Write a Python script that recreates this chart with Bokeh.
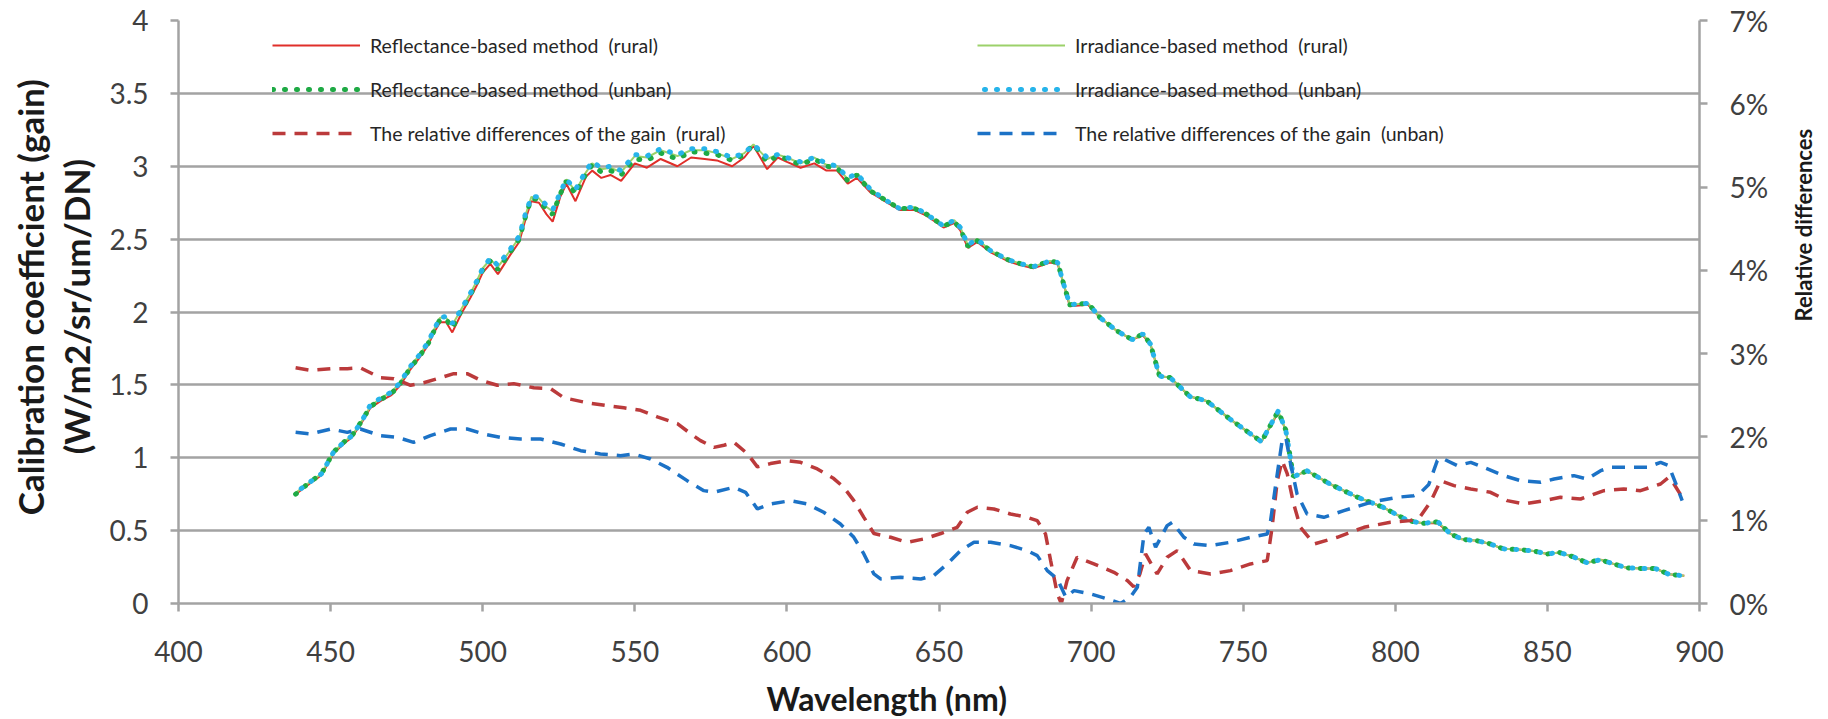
import math
from bokeh.plotting import figure
from bokeh.layouts import row, column
from bokeh.models import (Range1d, LinearAxis, FixedTicker, PrintfTickFormatter,
                          Legend, LegendItem)
from bokeh.core.properties import value
from bokeh.embed import file_html
from bokeh.resources import INLINE

# ---------------- data ----------------
wavelength = [438.5, 443, 447, 451, 454.5, 457, 460.5, 463, 466.5, 470, 473, 476, 479, 482, 484, 486, 488, 490,
              493, 496, 498, 500, 502.5, 505, 509, 512, 514, 516, 518.5, 521, 523, 525.5, 527.5, 530.5, 534, 536,
              539, 542, 545.5, 550, 554, 558.5, 564, 568.5, 573, 577, 582, 586, 589, 593.5, 597, 600, 604.5, 609,
              613, 616.5, 620, 623, 627.5, 633, 637, 642, 646, 651.5, 655, 657, 659.5, 662.5, 667, 672.5, 677, 681,
              686.5, 689, 691, 693, 699, 703, 708.5, 713.5, 717, 719.5, 722.5, 726, 732.5, 738, 746, 756, 761.5,
              764, 766.5, 771, 778.5, 787.5, 796, 804, 809, 814, 818, 822, 827, 831, 835.5, 840.5, 845.5, 850, 854,
              858.5, 863, 867.5, 872, 876, 881, 885.5, 890, 895]

gain_refl_rural = [0.75, 0.82, 0.88, 1.03, 1.10, 1.14, 1.25, 1.34, 1.39, 1.43, 1.50, 1.60, 1.68, 1.77, 1.86, 1.93,
                   1.93, 1.86, 1.99, 2.10, 2.18, 2.27, 2.33, 2.26, 2.39, 2.48, 2.63, 2.76, 2.75, 2.67, 2.62, 2.79,
                   2.88, 2.76, 2.93, 2.97, 2.92, 2.94, 2.90, 3.02, 2.99, 3.05, 3.00, 3.06, 3.05, 3.04, 3.00, 3.06,
                   3.14, 2.98, 3.06, 3.03, 2.99, 3.02, 2.97, 2.97, 2.88, 2.92, 2.82, 2.75, 2.70, 2.70, 2.66, 2.58,
                   2.61, 2.56, 2.44, 2.48, 2.41, 2.35, 2.32, 2.30, 2.34, 2.33, 2.19, 2.04, 2.05, 1.96, 1.87, 1.81,
                   1.84, 1.78, 1.56, 1.55, 1.42, 1.39, 1.26, 1.11, 1.31, 1.19, 0.87, 0.91, 0.82, 0.73, 0.66, 0.57,
                   0.55, 0.55, 0.48, 0.44, 0.43, 0.41, 0.375, 0.37, 0.36, 0.34, 0.35, 0.32, 0.28, 0.30, 0.27, 0.245,
                   0.24, 0.24, 0.20, 0.19]

gain_refl_unban = [0.75, 0.83, 0.89, 1.04, 1.11, 1.15, 1.26, 1.35, 1.40, 1.44, 1.51, 1.61, 1.69, 1.78, 1.87, 1.95,
                   1.95, 1.89, 2.01, 2.12, 2.20, 2.29, 2.35, 2.29, 2.41, 2.50, 2.65, 2.78, 2.77, 2.70, 2.67, 2.81,
                   2.90, 2.81, 2.95, 3.01, 2.96, 2.97, 2.94, 3.05, 3.04, 3.09, 3.05, 3.10, 3.09, 3.08, 3.04, 3.08,
                   3.15, 3.03, 3.07, 3.05, 3.01, 3.05, 3.00, 2.99, 2.90, 2.94, 2.83, 2.76, 2.71, 2.71, 2.67, 2.59,
                   2.62, 2.57, 2.45, 2.49, 2.42, 2.36, 2.33, 2.31, 2.35, 2.34, 2.19, 2.05, 2.06, 1.96, 1.87, 1.81,
                   1.85, 1.78, 1.56, 1.55, 1.42, 1.39, 1.26, 1.11, 1.32, 1.19, 0.87, 0.91, 0.82, 0.73, 0.66, 0.57,
                   0.55, 0.56, 0.48, 0.44, 0.43, 0.41, 0.375, 0.37, 0.36, 0.34, 0.35, 0.32, 0.28, 0.30, 0.27, 0.245,
                   0.24, 0.24, 0.20, 0.19]

gain_irr_rural = [0.76, 0.83, 0.89, 1.04, 1.11, 1.15, 1.26, 1.35, 1.41, 1.45, 1.52, 1.62, 1.70, 1.79, 1.88, 1.96,
                  1.96, 1.91, 2.02, 2.13, 2.21, 2.30, 2.36, 2.31, 2.42, 2.51, 2.66, 2.79, 2.78, 2.72, 2.69, 2.82,
                  2.91, 2.83, 2.96, 3.02, 2.98, 2.99, 2.96, 3.07, 3.06, 3.11, 3.07, 3.11, 3.11, 3.09, 3.05, 3.09,
                  3.15, 3.05, 3.08, 3.06, 3.02, 3.06, 3.01, 3.00, 2.91, 2.95, 2.84, 2.76, 2.71, 2.72, 2.67, 2.59,
                  2.63, 2.58, 2.46, 2.50, 2.42, 2.36, 2.33, 2.31, 2.35, 2.34, 2.19, 2.05, 2.06, 1.96, 1.87, 1.81,
                  1.85, 1.78, 1.56, 1.55, 1.42, 1.39, 1.26, 1.11, 1.32, 1.19, 0.87, 0.91, 0.82, 0.73, 0.66, 0.57,
                  0.55, 0.56, 0.48, 0.44, 0.43, 0.41, 0.375, 0.37, 0.36, 0.34, 0.35, 0.32, 0.28, 0.30, 0.27, 0.245,
                  0.24, 0.24, 0.20, 0.19]

gain_irr_unban = [0.76, 0.83, 0.89, 1.04, 1.11, 1.15, 1.26, 1.36, 1.41, 1.45, 1.52, 1.62, 1.70, 1.79, 1.88, 1.96,
                  1.97, 1.92, 2.02, 2.13, 2.21, 2.30, 2.37, 2.32, 2.43, 2.52, 2.67, 2.79, 2.79, 2.73, 2.70, 2.82,
                  2.91, 2.84, 2.97, 3.03, 2.99, 3.00, 2.97, 3.08, 3.07, 3.12, 3.08, 3.12, 3.12, 3.10, 3.06, 3.09,
                  3.15, 3.06, 3.08, 3.06, 3.03, 3.06, 3.02, 3.00, 2.92, 2.95, 2.84, 2.76, 2.71, 2.72, 2.67, 2.59,
                  2.63, 2.58, 2.46, 2.50, 2.42, 2.36, 2.33, 2.31, 2.35, 2.34, 2.19, 2.05, 2.06, 1.96, 1.87, 1.81,
                  1.85, 1.78, 1.56, 1.55, 1.42, 1.39, 1.26, 1.11, 1.32, 1.19, 0.87, 0.91, 0.82, 0.73, 0.66, 0.57,
                  0.55, 0.56, 0.48, 0.44, 0.43, 0.41, 0.375, 0.37, 0.36, 0.34, 0.35, 0.32, 0.28, 0.30, 0.27, 0.245,
                  0.24, 0.24, 0.20, 0.19]

wl_diff_rural = [438.5, 443.4, 450, 455.5, 459.8, 466.4, 470.8, 476.3, 480.6, 486.1, 490.5, 494.9, 499.3, 504.8,
                 510.2, 516.8, 522.3, 526.7, 534.4, 541, 546.4, 551.9, 557.4, 564, 568.3, 571.6, 576, 579.3, 582.6,
                 587, 590.3, 594.6, 600.1, 604.5, 610, 615.4, 618.7, 622, 625.3, 628.6, 634.1, 639.5, 645, 650.6,
                 656, 659.3, 662.6, 668, 673.5, 679, 682.3, 685, 686.7, 688.9, 690.2, 692.1, 695.4, 700.9, 707.5,
                 711.9, 714, 716, 717.9, 721.7, 725, 728.3, 732.7, 739.3, 745.8, 752.4, 757.9, 759.5, 761.2, 762.8,
                 764.5, 766.6, 768.8, 773.3, 780.9, 789.7, 798.4, 805, 808.3, 811.6, 814.9, 819.3, 824.8, 831.3,
                 836.8, 842.3, 848.9, 854.3, 860.9, 868.6, 875.1, 880.6, 887.2, 889.9, 891.6, 894.3]
diff_rural = [2.83, 2.80, 2.82, 2.82, 2.83, 2.71, 2.70, 2.62, 2.65, 2.71, 2.76, 2.76, 2.68, 2.62, 2.64, 2.59, 2.58,
              2.47, 2.41, 2.375, 2.35, 2.32, 2.24, 2.16, 2.04, 1.955, 1.875, 1.90, 1.935, 1.80, 1.64, 1.68, 1.715,
              1.695, 1.615, 1.50, 1.395, 1.235, 1.035, 0.84, 0.795, 0.735, 0.775, 0.84, 0.915, 1.095, 1.155, 1.135,
              1.075, 1.035, 0.995, 0.835, 0.515, 0.115, 0.0, 0.275, 0.555, 0.475, 0.375, 0.275, 0.20, 0.35, 0.595,
              0.355, 0.555, 0.635, 0.395, 0.355, 0.395, 0.475, 0.515, 0.915, 1.475, 1.715, 1.555, 1.195, 0.915,
              0.715, 0.795, 0.915, 0.975, 0.995, 1.05, 1.22, 1.475, 1.415, 1.375, 1.335, 1.235, 1.195, 1.235,
              1.275, 1.255, 1.355, 1.375, 1.355, 1.435, 1.515, 1.435, 1.275]

wl_diff_unban = [438.5, 443.4, 450, 455.5, 459.8, 466.4, 471.9, 477.3, 482.8, 489.4, 494.9, 500.4, 505.8, 512.4,
                 519, 525.6, 532.2, 538.7, 545.3, 549.7, 555.2, 560.6, 567.2, 572.7, 576, 582.6, 586.4, 590.3, 594.6,
                 601.2, 606.7, 612.1, 617.6, 622, 625.3, 628.6, 630.8, 637.4, 644, 648.3, 652.7, 657.1, 661.5, 667,
                 673.5, 679, 682.3, 685.6, 688.9, 691.7, 694.4, 699.8, 705.3, 709.7, 713, 715.2, 717.4, 719, 721.2,
                 725, 726.7, 730.5, 733.8, 739.3, 745.8, 752.4, 757.9, 759, 761.2, 762.8, 764, 765.6, 767.7, 771,
                 776.5, 783.1, 791.9, 800.6, 806.1, 808.3, 811, 813.8, 815, 820.4, 824.8, 830.3, 835.7, 841.2, 847.8,
                 852.2, 858.7, 863.1, 867.5, 870.8, 877.4, 882.8, 887.2, 889.9, 892.7, 894.3]
diff_unban = [2.055, 2.035, 2.095, 2.055, 2.095, 2.015, 1.995, 1.935, 2.015, 2.095, 2.095, 2.035, 1.995, 1.975,
              1.975, 1.915, 1.835, 1.795, 1.775, 1.795, 1.735, 1.635, 1.475, 1.355, 1.335, 1.395, 1.335, 1.135,
              1.195, 1.235, 1.195, 1.095, 0.955, 0.795, 0.595, 0.355, 0.295, 0.315, 0.295, 0.335, 0.475, 0.635,
              0.735, 0.735, 0.695, 0.635, 0.575, 0.395, 0.295, 0.075, 0.155, 0.115, 0.055, 0.0, 0.08, 0.195, 0.835,
              0.915, 0.675, 0.935, 0.975, 0.795, 0.715, 0.695, 0.735, 0.795, 0.835, 0.995, 1.555, 1.955, 1.995,
              1.675, 1.315, 1.075, 1.035, 1.115, 1.215, 1.275, 1.295, 1.33, 1.43, 1.715, 1.75, 1.655, 1.695, 1.615,
              1.535, 1.475, 1.455, 1.495, 1.535, 1.495, 1.595, 1.635, 1.635, 1.635, 1.695, 1.655, 1.395, 1.235]

gain_ticks = [0, 0.5, 1, 1.5, 2, 2.5, 3, 3.5, 4]
gain_tick_labels = ["0", "0.5", "1", "1.5", "2", "2.5", "3", "3.5", "4"]
pct_ticks = [0, 1, 2, 3, 4, 5, 6, 7]
wl_ticks = [400, 450, 500, 550, 600, 650, 700, 750, 800, 850, 900]

labels = ["Reflectance-based method  (rural)", "Reflectance-based method  (unban)",
          "The relative differences of the gain  (rural)", "Irradiance-based method  (rural)",
          "Irradiance-based method  (unban)", "The relative differences of the gain  (unban)"]
title_left_1 = "Calibration coefficient (gain)"
title_left_2 = "(W/m2/sr/um/DN)"
title_right = "Relative differences"
title_bottom = "Wavelength (nm)"

# ---------------- style / layout (absolute page pixels) ----------------
FONT = "Lato"
GRID = "#a3a3a3"
TICK_TXT = "#404040"
TITLE_TXT = "#1a1a1a"
W, H = 1828, 719
FL, FR, FT, FB = 178, 1699, 20, 603   # frame edges
LEFT_W, RIGHT_W = 100, 48             # title strips
MAIN_H = 680
BOTTOM_H = H - MAIN_H
MAIN_W = W - LEFT_W - RIGHT_W

p = figure(width=MAIN_W, height=MAIN_H, output_backend="svg", toolbar_location=None,
           x_range=Range1d(400, 900), y_range=Range1d(0, 4),
           min_border_left=FL - LEFT_W, min_border_right=(W - RIGHT_W) - FR,
           min_border_top=FT, min_border_bottom=MAIN_H - FB)
p.extra_y_ranges = {"pct": Range1d(0, 7)}
p.outline_line_color = None
p.background_fill_color = "white"
p.border_fill_color = "white"

p.xgrid.visible = False
p.ygrid.ticker = FixedTicker(ticks=gain_ticks)
p.ygrid.grid_line_color = GRID
p.ygrid.grid_line_width = 2.5

def style_axis(ax):
    ax.axis_line_color = GRID
    ax.axis_line_width = 2.5
    ax.major_tick_line_color = GRID
    ax.major_tick_line_width = 2.5
    ax.major_tick_out = 8
    ax.major_tick_in = 0
    ax.minor_tick_line_color = None
    ax.major_label_text_font = FONT
    ax.major_label_text_font_size = "28px"
    ax.major_label_text_color = TICK_TXT

yax = p.yaxis[0]
yax.ticker = FixedTicker(ticks=gain_ticks)
yax.major_label_overrides = {t: s for t, s in zip(gain_ticks, gain_tick_labels)}
style_axis(yax)
yax.major_label_standoff = 22

xax = p.xaxis[0]
xax.ticker = FixedTicker(ticks=wl_ticks)
style_axis(xax)
xax.major_label_standoff = 29

rax = LinearAxis(y_range_name="pct", ticker=FixedTicker(ticks=pct_ticks),
                 formatter=PrintfTickFormatter(format="%d%%"))
style_axis(rax)
rax.major_label_standoff = 22
p.add_layout(rax, "right")

# ---------------- glyphs ----------------
r_refl_rural = p.line(wavelength, gain_refl_rural, line_color="#e02f2a", line_width=2)
r_irr_rural = p.line(wavelength, gain_irr_rural, line_color="#9cd16a", line_width=2)
r_refl_unban = p.line(wavelength, gain_refl_unban, line_color="#1faa45", line_width=5,
                      line_dash="1 11", line_cap="round")
r_irr_unban = p.line(wavelength, gain_irr_unban, line_color="#27b4ea", line_width=5,
                     line_dash="1 11", line_cap="round", line_dash_offset=5)
r_diff_rural = p.line(wl_diff_rural, diff_rural, y_range_name="pct", line_color="#bb3a3b",
                      line_width=3.5, line_dash="13 9")
r_diff_unban = p.line(wl_diff_unban, diff_unban, y_range_name="pct", line_color="#1c72c6",
                      line_width=3.5, line_dash="13 9")

LEG_ROW_H, LEG_GAP = 26, 18
LEG_H = 3 * LEG_ROW_H + 2 * LEG_GAP
LEG_TOP = 32

def make_legend(items, left):
    lg = Legend(items=items, location=(left - FL, FB - LEG_TOP - LEG_H), orientation="vertical")
    lg.background_fill_alpha = 0
    lg.border_line_alpha = 0
    lg.padding = 0
    lg.margin = 0
    lg.spacing = LEG_GAP
    lg.glyph_width = 88
    lg.glyph_height = LEG_ROW_H
    lg.label_height = LEG_ROW_H
    lg.label_standoff = 10
    lg.label_text_font = FONT
    lg.label_text_font_size = "19.5px"
    lg.label_text_color = "#262626"
    return lg

p.add_layout(make_legend([LegendItem(label=labels[0], renderers=[r_refl_rural]),
                          LegendItem(label=labels[1], renderers=[r_refl_unban]),
                          LegendItem(label=labels[2], renderers=[r_diff_rural])], 272))
p.add_layout(make_legend([LegendItem(label=labels[3], renderers=[r_irr_rural]),
                          LegendItem(label=labels[4], renderers=[r_irr_unban]),
                          LegendItem(label=labels[5], renderers=[r_diff_unban])], 977))

# ---------------- title strips ----------------
def strip(w, h):
    f = figure(width=w, height=h, output_backend="svg", toolbar_location=None,
               x_range=Range1d(0, w), y_range=Range1d(0, h),
               x_axis_location=None, y_axis_location=None,
               min_border=0, min_border_left=0, min_border_right=0, min_border_top=0, min_border_bottom=0)
    f.outline_line_color = None
    f.grid.grid_line_color = None
    f.background_fill_color = "white"
    f.border_fill_color = "white"
    return f

def strip_text(f, strip_left, strip_top, strip_h, text, x_abs, y_abs, angle, size):
    # anchor of the text (start of line, middle of the line box), in page pixels
    f.text(x=[x_abs - strip_left], y=[strip_h - (y_abs - strip_top)], text=[text], angle=angle,
           text_align="left", text_baseline="middle", text_font=value(FONT),
           text_font_style="bold", text_font_size=size, text_color=TITLE_TXT)

left = strip(LEFT_W, MAIN_H)
strip_text(left, 0, 0, MAIN_H, title_left_1, 29, 577, math.pi / 2, "35px")
strip_text(left, 0, 0, MAIN_H, title_left_2, 75, 506, math.pi / 2, "35px")

right = strip(RIGHT_W, MAIN_H)
strip_text(right, W - RIGHT_W, 0, MAIN_H, title_right, 1803, 351, math.pi / 2, "22px")

bottom = strip(W, BOTTOM_H)
strip_text(bottom, 0, MAIN_H, BOTTOM_H, title_bottom, 766, 698, 0, "32px")

layout = column(row(left, p, right, spacing=0), bottom, spacing=0)
open("out.html", "w").write(file_html(layout, INLINE))
